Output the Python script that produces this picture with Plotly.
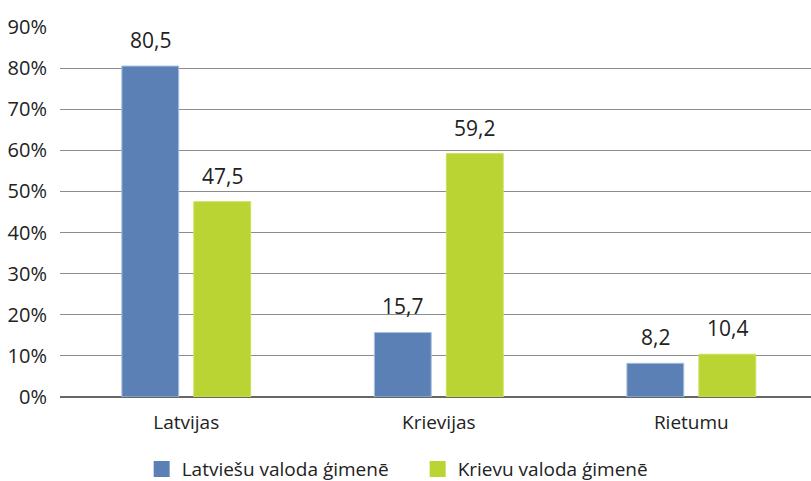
import plotly.graph_objects as go

categories = ["Latvijas", "Krievijas", "Rietumu"]
latviesu = [80.5, 15.7, 8.2]
krievu = [47.5, 59.2, 10.4]
series_names = ["Latviešu valoda ģimenē", "Krievu valoda ģimenē"]
colors = ["#5B80B5", "#B9D433"]
tick_vals = [0, 10, 20, 30, 40, 50, 60, 70, 80, 90]
tick_text = [f"{v}%" for v in tick_vals]

font = "Open Sans"
text_color = "#222222"
fig = go.Figure()
for vals, name, col, edge in [(latviesu, series_names[0], colors[0], "#A9C0DD"),
                              (krievu, series_names[1], colors[1], "#C9E05A")]:
    fig.add_trace(go.Bar(
        x=categories, y=vals, name=name, showlegend=False,
        marker=dict(color=col, line=dict(color=edge, width=1)),
    ))
    # legend proxies with square symbols
    fig.add_trace(go.Scatter(
        x=[None], y=[None], mode="markers", name=name,
        marker=dict(symbol="square", size=16, color=col),
    ))

# value labels above the bars
for vals, shift in [(latviesu, -36), (krievu, 36)]:
    for c, v in zip(categories, vals):
        fig.add_annotation(
            x=c, y=v, xref="x", yref="y", text=f"{v:.1f}".replace(".", ","),
            showarrow=False, xshift=shift, yanchor="bottom", yshift=10,
            font=dict(size=21, family=font, color=text_color),
        )

fig.update_layout(
    width=811, height=481,
    margin=dict(l=60, r=0, t=27, b=84, autoexpand=False),
    paper_bgcolor="white", plot_bgcolor="white",
    separators=", ",
    barmode="group", bargap=0.43, bargroupgap=0.21,
    font=dict(family=font, size=19, color=text_color),
    showlegend=True,
    legend=dict(orientation="h", x=0.515, xanchor="center", xref="container",
                y=-0.195, yanchor="middle", yref="paper",
                font=dict(size=19, family=font, color=text_color),
                itemwidth=30, entrywidth=231),
    xaxis=dict(showgrid=False, tickfont=dict(size=19), ticks="", showline=False,
               ticklabelstandoff=12, automargin=False, range=[-0.5, 2.474]),
    yaxis=dict(range=[0, 90], tickvals=tick_vals, ticktext=tick_text,
               showgrid=True, gridcolor="#8C8C8C", gridwidth=1,
               zeroline=True, zerolinecolor="#666666", zerolinewidth=1.5,
               tickfont=dict(size=20), ticklabelstandoff=12, automargin=False),
)
fig.write_html("out.html", config={"displayModeBar": False},
               post_script="document.body.style.margin='0px';document.body.style.overflow='hidden';")
